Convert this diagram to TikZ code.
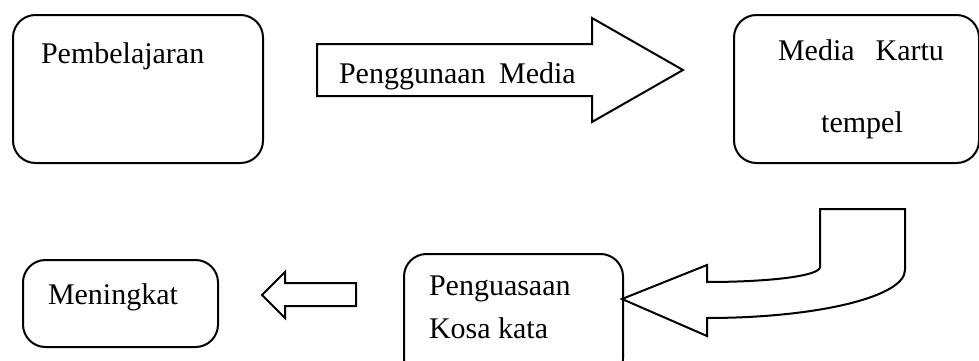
\documentclass[tikz,border=0pt]{standalone}
\usepackage{fontspec}
\setmainfont{Liberation Serif}
\begin{document}
\begin{tikzpicture}[x=0.4pt, y=-0.4pt, line width=0.8pt,
    box/.style={draw, rounded corners=9pt, anchor=north west, inner sep=0pt},
    label/.style={inner sep=0pt, font=\fontsize{12}{14}\selectfont}]
    \useasboundingbox (0,0) rectangle (979,360);
    % Boxes
    \node[box, minimum width=100pt, minimum height=59.2pt] (pemb) at (12,14) {};
    \node[box, minimum width=98pt, minimum height=59.2pt] (media) at (733,14) {};
    \node[box, minimum width=78pt, minimum height=34.8pt] (naik) at (22,259) {};
    \node[box, minimum width=87.6pt, minimum height=50.8pt] (kuasa) at (403,253) {};

    \node[label, anchor=base west] (tpemb) at (40,63) {Pembelajaran};
    \node[label, anchor=base] (tmedia) at (861,60) {Media\hspace{0.7em}Kartu};
    \node[label, anchor=base] (ttempel) at (862,132) {tempel};
    \node[label, anchor=base west] (tnaik) at (47,304) {Meningkat};
    \node[label, anchor=base west] (tkuasa) at (428,295) {Penguasaan};
    \node[label, anchor=base west] (tkosa) at (428,338) {Kosa kata};

    % Big arrow
    \draw[line join=miter] (317,44) -- (592,44) -- (592,18) -- (683,70)
      -- (592,122) -- (592,96) -- (317,96) -- cycle;
    \begin{scope}
      \clip (317,44) rectangle (592,96);
      \node[label, anchor=base west] (tguna) at (338,83) {Penggunaan\hspace{0.45em}Media};
    \end{scope}

    % U-turn arrow
    \draw[line join=miter] (622,299) -- (707,265) -- (707,282)
      .. controls (769,282) and (820,276) .. (820,267) -- (820,209)
      -- (905,209) -- (905,270)
      .. controls (905,297) and (816,318) .. (707,318)
      -- (707,336) -- cycle;

    % Small arrow
    \draw[line join=miter] (356,283) -- (285,283) -- (285,272) -- (262,295)
      -- (285,318) -- (285,306) -- (356,306) -- cycle;
  \end{tikzpicture}
\end{document}
